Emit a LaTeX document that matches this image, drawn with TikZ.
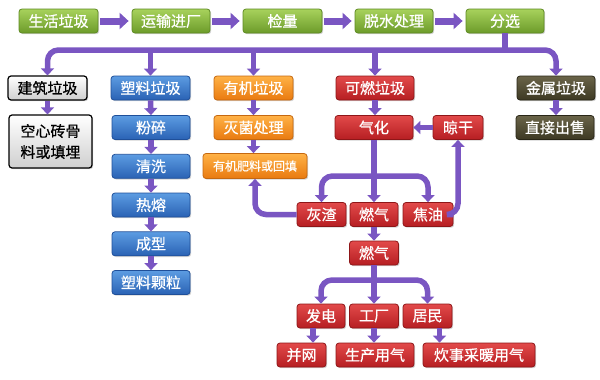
\documentclass[tikz,border=0pt]{standalone}
\usepackage{fontspec}
\newfontfamily\cjk[FakeBold=0.7]{Noto Sans CJK SC}
\usetikzlibrary{arrows.meta,shadows}
\definecolor{arr}{HTML}{7A56C2}
\definecolor{gT}{HTML}{A8D25C}\definecolor{gD}{HTML}{6C9B2A}\definecolor{gB}{HTML}{5E8A22}
\definecolor{bT}{HTML}{5C9CE2}\definecolor{bD}{HTML}{2A62B4}\definecolor{bB}{HTML}{1F4F99}
\definecolor{oT}{HTML}{FFB246}\definecolor{oD}{HTML}{E97A10}\definecolor{oB}{HTML}{C56810}
\definecolor{rT}{HTML}{E24A4A}\definecolor{rD}{HTML}{B61E22}\definecolor{rB}{HTML}{8E1618}
\definecolor{kT}{HTML}{6A6449}\definecolor{kD}{HTML}{3D3923}\definecolor{kB}{HTML}{292617}
\definecolor{wD}{HTML}{CFCFCF}
\begin{document}
\begin{tikzpicture}[x=1pt,y=-1pt,
  box/.style={rounded corners=3pt, minimum height=24pt, inner sep=0pt, text=white,
    font=\cjk\fontsize{15}{17}\selectfont, line width=0.8pt,
    drop shadow={opacity=0.35, shadow xshift=1.2pt, shadow yshift=-1.2pt}},
  gbox/.style={box, draw=gB, top color=gT, bottom color=gD},
  bbox/.style={box, draw=bB, top color=bT, bottom color=bD},
  obox/.style={box, draw=oB, top color=oT, bottom color=oD},
  rbox/.style={box, draw=rB, top color=rT, bottom color=rD},
  kbox/.style={box, draw=kB, top color=kT, bottom color=kD},
  wbox/.style={box, draw=black, line width=1.2pt, top color=white, bottom color=wD, text=black},
  line/.style={draw=arr, line width=5.5pt},
  conn/.style={draw=arr, line width=5.5pt, rounded corners=11pt, -{Triangle[width=13pt,length=7pt]}},
  big/.style={draw=arr, line width=7pt, shorten <=2pt, shorten >=3pt, -{Triangle[width=16pt,length=9pt]}}
]
\useasboundingbox (0,0) rectangle (600,380);
% top row
\node[gbox, minimum width=79pt] (g1) at (58.5,21) {生活垃圾};
\node[gbox, minimum width=78pt] (g2) at (171,21) {运输进厂};
\node[gbox, minimum width=79pt] (g3) at (282.5,21) {检量};
\node[gbox, minimum width=78pt] (g4) at (394,21) {脱水处理};
\node[gbox, minimum width=78pt] (g5) at (505,21) {分选};
\draw[big] (g1) -- (g2);
\draw[big] (g2) -- (g3);
\draw[big] (g3) -- (g4);
\draw[big] (g4) -- (g5);
% row 2
\node[wbox, minimum width=79pt] (jz) at (47.5,88) {建筑垃圾};
\node[bbox, minimum width=79pt] (sl) at (150.5,88) {塑料垃圾};
\node[obox, minimum width=79pt] (yj) at (253.5,88) {有机垃圾};
\node[rbox, minimum width=78pt] (kr) at (375,88) {可燃垃圾};
\node[kbox, minimum width=78pt] (js) at (556,88) {金属垃圾};
\coordinate (bar1) at (505,50);
\draw[line] (g5.south) -- (bar1);
\draw[conn] (bar1) -| (jz.north);
\draw[conn] (bar1) -| (js.north);
\draw[conn] (sl.north |- bar1) -- (sl.north);
\draw[conn] (yj.north |- bar1) -- (yj.north);
\draw[conn] (kr.north |- bar1) -- (kr.north);
% row 3
\node[wbox, minimum width=83pt, minimum height=53pt, align=center,
  font=\cjk\fontsize{15}{21}\selectfont] (kx) at (50.5,141.5) {空心砖骨\\料或填埋};
\node[bbox, minimum width=78pt] (fs) at (151,127.5) {粉碎};
\node[bbox, minimum width=78pt] (qx) at (151,166.3) {清洗};
\node[bbox, minimum width=78pt] (rr) at (151,205) {热熔};
\node[bbox, minimum width=78pt] (cx) at (151,243.8) {成型};
\node[bbox, minimum width=78pt] (kl) at (151,282.5) {塑料颗粒};
\node[obox, minimum width=79pt] (mj) at (253.5,127.5) {灭菌处理};
\node[obox, minimum width=104pt, minimum height=25pt, font=\cjk\fontsize{12}{14}\selectfont] (yjf) at (255,166) {有机肥料或回填};
\node[rbox, minimum width=78pt] (qh) at (374,127.5) {气化};
\node[rbox, minimum width=50pt] (lg) at (458,127.5) {晾干};
\node[kbox, minimum width=78pt] (cs) at (555,127.5) {直接出售};
\draw[conn] (jz.south) -- (jz.south |- kx.north);
\draw[conn] (sl.south) -- (fs.north);
\draw[conn] (fs.south) -- (qx.north);
\draw[conn] (qx.south) -- (rr.north);
\draw[conn] (rr.south) -- (cx.north);
\draw[conn] (cx.south) -- (kl.north);
\draw[conn] (yj.south) -- (mj.north);
\draw[conn] (mj.south) -- (mj.south |- yjf.north);
\draw[conn] (kr.south) -- (kr.south |- qh.north);
\draw[conn] (js.south) -- (js.south |- cs.north);
\draw[conn] (lg.west) -- (qh.east);
% gasification products
\node[rbox, minimum width=49pt] (hz) at (321.5,214.5) {灰渣};
\node[rbox, minimum width=48pt] (rq1) at (374,214.5) {燃气};
\node[rbox, minimum width=50pt] (jy) at (428,214.5) {焦油};
\node[rbox, minimum width=49pt] (rq2) at (374,253) {燃气};
\coordinate (bar2) at (374,176);
\draw[line] (qh.south) -- (bar2);
\draw[conn] (bar2) -| (hz.north);
\draw[conn] (bar2) -| (jy.north);
\draw[conn] (bar2) -- (rq1.north);
\draw[conn] (jy.east) -| (lg.south);
\draw[conn] (hz.west) -| (yjf.south);
\draw[conn] (rq1.south) -- (rq2.north);
% gas use
\node[rbox, minimum width=48pt] (fd) at (321,316) {发电};
\node[rbox, minimum width=49pt] (gc) at (374,316) {工厂};
\node[rbox, minimum width=49pt] (jm) at (427.5,316) {居民};
\node[rbox, minimum width=49pt] (bw) at (301.5,355) {并网};
\node[rbox, minimum width=78pt] (sc) at (375,355) {生产用气};
\node[rbox, minimum width=112pt] (cn) at (479,355) {炊事采暖用气};
\coordinate (bar3) at (374,280);
\draw[line] (rq2.south) -- (bar3);
\draw[conn] (bar3) -| (fd.north);
\draw[conn] (bar3) -| (jm.north);
\draw[conn] (bar3) -- (gc.north);
\draw[conn] ([xshift=-8pt]fd.south) -- ([xshift=-8pt]fd.south |- bw.north);
\draw[conn] (gc.south) -- (gc.south |- sc.north);
\draw[conn] ([xshift=12pt]jm.south) -- ([xshift=12pt]jm.south |- cn.north);
\end{tikzpicture}
\end{document}
